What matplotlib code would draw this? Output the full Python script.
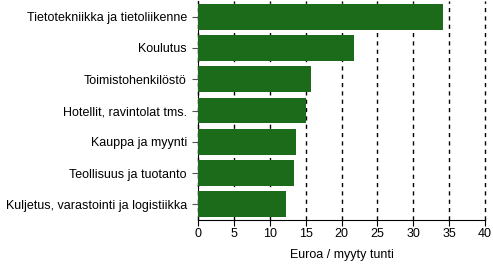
import matplotlib
matplotlib.use("Agg")
import matplotlib.pyplot as plt

categories = ["Tietotekniikka ja tietoliikenne", "Koulutus", "Toimistohenkilöstö",
              "Hotellit, ravintolat tms.", "Kauppa ja myynti", "Teollisuus ja tuotanto",
              "Kuljetus, varastointi ja logistiikka"]
values = [34.1, 21.8, 15.7, 15.1, 13.6, 13.4, 12.3]
xticks = [0, 5, 10, 15, 20, 25, 30, 35, 40]

plt.rcParams['font.family'] = ['Liberation Sans', 'DejaVu Sans']
fig = plt.figure(figsize=(4.93, 2.66), dpi=100)
ax = fig.add_axes([198/493, 1-220/266, 287/493, 219/266])
ypos = list(range(len(categories)))
ax.barh(ypos, values, height=0.83, color='#1b6b1b', zorder=3)
ax.set_ylim(len(categories)-0.5, -0.5)
ax.set_xlim(0, 40)
ax.set_xticks(xticks)
ax.set_xticklabels([str(t) for t in xticks], fontsize=9)
ax.set_yticks(ypos)
ax.set_yticklabels(categories, fontsize=9)
ax.xaxis.grid(True, linestyle=(0, (3, 3)), color='black', linewidth=1, zorder=0)
ax.set_axisbelow(True)
for line in ax.get_xgridlines():
    line.set_clip_on(False)
for s in ['top', 'right']:
    ax.spines[s].set_visible(False)
ax.spines['left'].set_color('black')
ax.spines['bottom'].set_color('black')
ax.tick_params(axis='y', length=4, color='#555555', pad=4)
ax.tick_params(axis='x', length=4, color='black', pad=2)
ax.set_xlabel("Euroa / myyty tunti", fontsize=9, labelpad=6)
fig.savefig("out.png", dpi=100)
